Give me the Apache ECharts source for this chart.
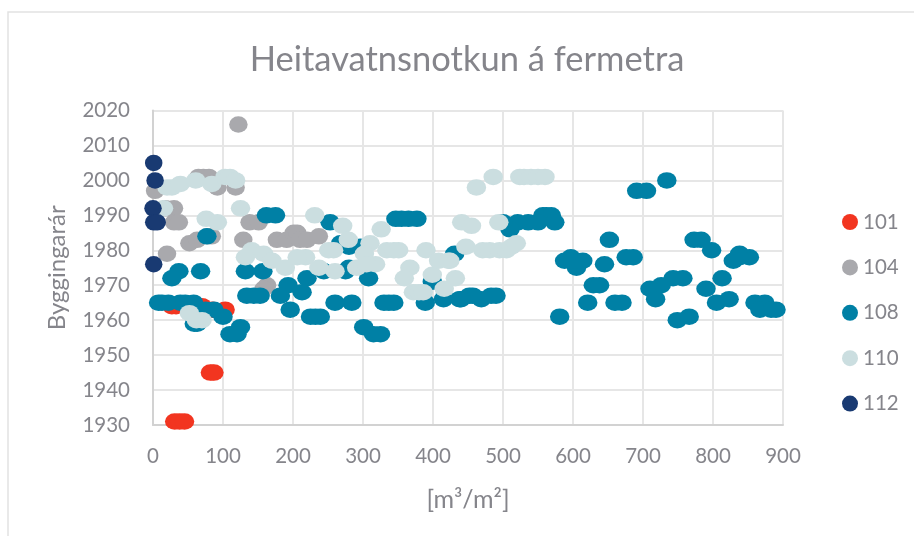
<!DOCTYPE html>
<html>
<head>
<meta charset="utf-8">
<style>
html, body { margin: 0; padding: 0; background: #fff; }
#main { width: 914px; height: 536px; }
</style>
<script src="https://cdn.jsdelivr.net/npm/echarts@6/dist/echarts.min.js"></script>
</head>
<body>
<div id="main"></div>
<script>
var chartTitle = "Heitavatnsnotkun á fermetra";
var xName = "[m³/m²]";
var yName = "Byggingarár";

var s101 = [[31,1931],[38,1931],[45,1931],[82,1945],[87,1945],[27,1964],[33,1964],[70,1964],[85,1963],[103,1963]];

var s104 = [[122,2016],[65,2001],[72,2001],[80,2001],[3,1997],[92,1998],[118,1998],[18,1992],[30,1992],[30,1988],[37,1988],
  [52,1982],[63,1983],[78,1984],[84,1984],[20,1979],[129,1983],[138,1988],[151,1988],[177,1983],[191,1983],[201,1985],[206,1985],
  [210,1983],[220,1983],[237,1984],[163,1970],[158,1969]];

var s108 = [[734,2000],[691,1997],[705,1997],[652,1983],[773,1983],[783,1983],[798,1980],[838,1979],[852,1978],[829,1977],[838,1978],
  [597,1978],[588,1977],[614,1977],[605,1975],[600,1977],[645,1976],[676,1978],[686,1978],[743,1972],[757,1972],[726,1970],[710,1969],
  [718,1966],[813,1972],[790,1969],[823,1966],[805,1965],[629,1970],[638,1970],[621,1965],[660,1965],[670,1965],[581,1961],[749,1960],[766,1961],
  [860,1965],[874,1965],[867,1963],[890,1963],[883,1963],[557,1990],[562,1990],[569,1990],[574,1988],[550,1988],[536,1988],[521,1988],[510,1986],[500,1988],
  [438,1966],[452,1967],[457,1967],[469,1966],[483,1967],[490,1967],[77,1984],[162,1990],[175,1990],[253,1988],[347,1989],[355,1989],[365,1989],[377,1989],
  [268,1982],[280,1981],[296,1981],[431,1979],[37,1974],[27,1972],[68,1974],[132,1974],[157,1974],[193,1970],[220,1972],[244,1974],[275,1974],[308,1972],
  [134,1967],[144,1967],[153,1967],[182,1967],[213,1968],[260,1965],[284,1965],[330,1965],[337,1965],[344,1965],[196,1963],[225,1961],[232,1961],[239,1961],
  [125,1958],[110,1956],[120,1956],[100,1961],[87,1963],[75,1963],[59,1959],[63,1959],[301,1958],[315,1956],[325,1956],[8,1965],[13,1965],[22,1965],
  [39,1965],[46,1965],[58,1965],[389,1965],[415,1966],[440,1966],[399,1971],[280,1975]];

var s110 = [[486,2001],[462,1998],[524,2001],[530,2001],[540,2001],[550,2001],[560,2001],[441,1988],[455,1987],[494,1988],[447,1981],[471,1980],[481,1980],
  [495,1980],[505,1980],[512,1981],[519,1982],[424,1977],[20,1998],[27,1998],[39,1999],[61,2000],[84,1999],[103,2001],[110,2001],[118,2000],
  [15,1992],[125,1992],[76,1989],[92,1988],[231,1990],[271,1987],[279,1983],[326,1986],[310,1982],[302,1979],[334,1980],[344,1980],[351,1980],[390,1980],
  [367,1975],[141,1980],[132,1978],[158,1979],[170,1977],[189,1975],[218,1978],[206,1978],[237,1975],[251,1980],[258,1980],[260,1974],[291,1975],[318,1976],[305,1976],
  [52,1962],[70,1960],[62,1960],[372,1968],[380,1968],[386,1968],[416,1969],[359,1972],[399,1973],[432,1972],[408,1977],[422,1977]];

var s112 = [[1,2005],[3,2000],[0,1992],[1,1988],[6,1988],[1,1976]];

var names = ["101", "104", "108", "110", "112"];
var values = [s101, s104, s108, s110, s112];
var colors = ["#f23520", "#a9a9ad", "#0080a5", "#cbdee0", "#193a72"];
var markerSizes = [[19.5, 16.5], [18.5, 16.5], [19.5, 16.5], [19.5, 16.5], [17.5, 16.5]];

var myChart = echarts.init(document.getElementById("main"));
var font = "Lato";
var textColor = "#85858b";

var option = {
  animation: false,
  textStyle: { fontFamily: font },
  title: {
    text: chartTitle,
    left: 462,
    textAlign: "center",
    top: 37,
    textStyle: { color: textColor, fontSize: 34.5, fontWeight: "normal", fontFamily: font }
  },
  graphic: [
    {
      type: "rect",
      silent: true,
      z: -1,
      shape: { x: 8, y: 12, width: 1000, height: 1000 },
      style: { fill: "#fff", stroke: "#e2e2e2", lineWidth: 1.5 }
    }
  ],
  legend: {
    orient: "vertical",
    left: 837,
    top: 206.5,
    itemWidth: 16,
    itemHeight: 16,
    itemGap: 24.4,
    itemStyle: { opacity: 1 },
    icon: "circle",
    textStyle: { color: textColor, fontSize: 20.5, fontFamily: font },
    data: names
  },
  grid: { left: 153, top: 110.5, width: 630, height: 314.5, containLabel: false },
  xAxis: {
    type: "value",
    min: 0,
    max: 900,
    interval: 100,
    name: xName,
    nameLocation: "center",
    nameGap: 62,
    nameTextStyle: { color: textColor, fontSize: 25 },
    axisLine: { lineStyle: { color: "#d2d2d2", width: 2 } },
    axisTick: { show: false },
    splitLine: { lineStyle: { color: "#e6e6e6", width: 2 } },
    axisLabel: { color: textColor, fontSize: 20.5, margin: 21, formatter: function (v) { return String(v); } }
  },
  yAxis: {
    type: "value",
    min: 1930,
    max: 2020,
    interval: 10,
    name: yName,
    nameLocation: "center",
    nameGap: 84,
    nameMoveOverlap: false,
    nameTextStyle: { color: textColor, fontSize: 24 },
    axisLine: { show: true, lineStyle: { color: "#d2d2d2", width: 2 } },
    axisTick: { show: false },
    splitLine: { lineStyle: { color: "#e6e6e6", width: 2 } },
    axisLabel: { color: textColor, fontSize: 20.5, margin: 23, formatter: function (v) { return String(v); } }
  },
  series: names.map(function (n, i) {
    return {
      name: n,
      type: "scatter",
      data: values[i],
      symbol: "circle",
      symbolSize: markerSizes[i],
      itemStyle: { color: colors[i], opacity: 1 }
    };
  })
};

myChart.setOption(option);
</script>
</body>
</html>
